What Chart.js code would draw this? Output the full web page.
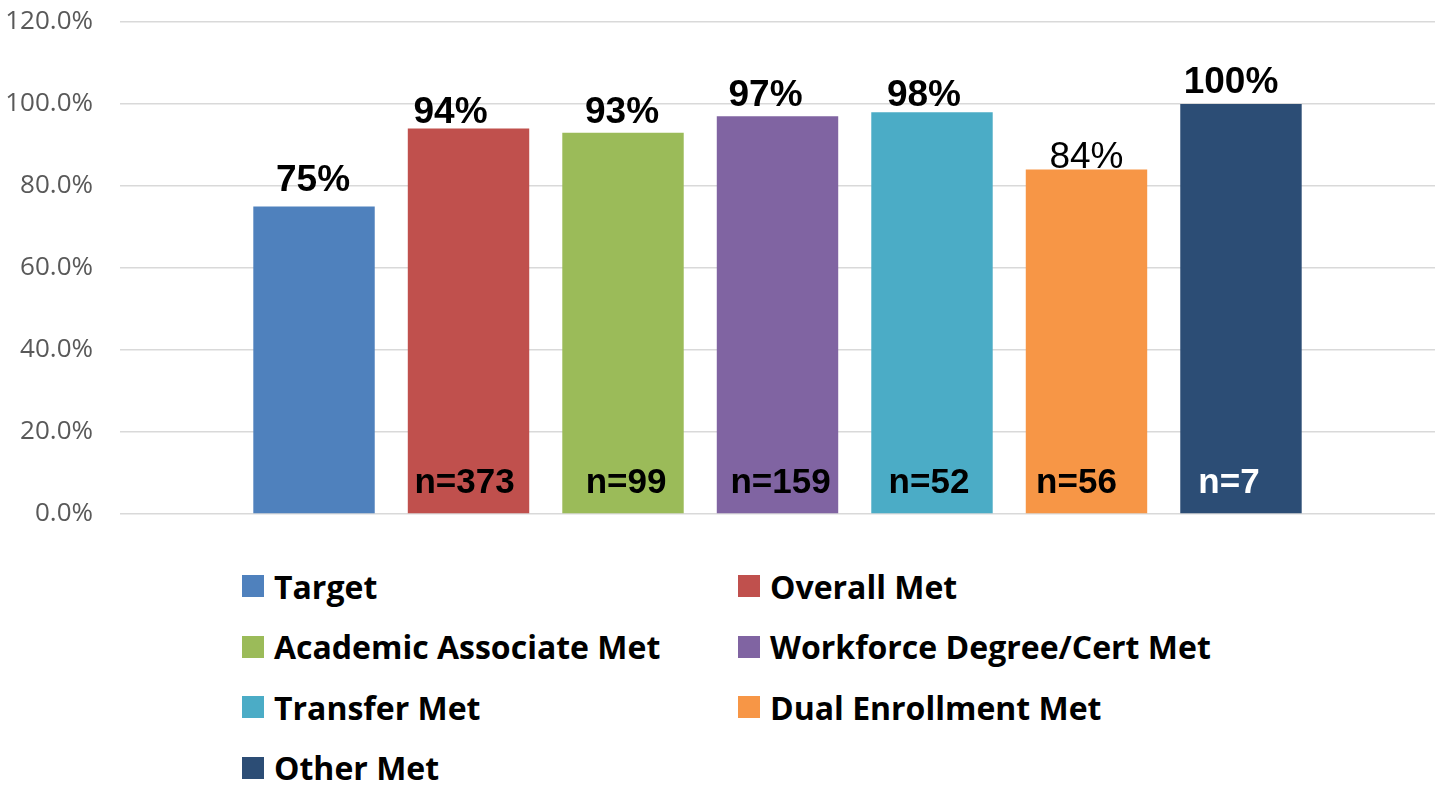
<!DOCTYPE html>
<html lang="en">
<head>
  <meta charset="UTF-8" />
  <title>Completion Met by Group</title>
  <script src="https://cdn.jsdelivr.net/npm/chart.js"></script>
  <style>
    html, body { margin: 0; padding: 0; background: #fff; }
    #wrap { position: relative; width: 1439px; height: 785px; overflow: hidden; }
    #chartBox { position: absolute; left: 0; top: 0; width: 1439px; height: 535px; }
    #legend {
      position: absolute; left: 242px; top: 556px;
      display: grid; grid-template-columns: 496px 496px; grid-auto-rows: 60.5px;
      font-family: "Open Sans", sans-serif; font-weight: 700; font-size: 32px; color: #000;
    }
    .item { display: flex; align-items: center; white-space: nowrap; }
    .swatch { width: 22px; height: 22px; margin-right: 10px; flex: none; }
  </style>
</head>
<body>
  <div id="wrap">
    <div id="chartBox"><canvas id="chart"></canvas></div>
    <div id="legend"></div>
  </div>

  <script>
    const seriesNames = ['Target', 'Overall Met', 'Academic Associate Met', 'Workforce Degree/Cert Met',
                         'Transfer Met', 'Dual Enrollment Met', 'Other Met'];
    const seriesValues = [75, 94, 93, 97, 98, 84, 100];
    const seriesColors = ['#4F81BD', '#C0504D', '#9BBB59', '#8064A2', '#4BACC6', '#F79646', '#2C4D75'];
    const topLabels = ['75%', '94%', '93%', '97%', '98%', '84%', '100%'];
    const topBold = [true, true, true, true, true, false, true];
    const countLabels = ['', 'n=373', 'n=99', 'n=159', 'n=52', 'n=56', 'n=7'];
    const countColors = ['#000', '#000', '#000', '#000', '#000', '#000', '#fff'];
    const yTicks = [0, 20, 40, 60, 80, 100, 120];

    // hand-placed label nudges (the original labels were dragged around a bit)
    const topShiftX = [-1, -18, -1, -12, -8, 0, -10];
    const topGap = [16, 6, 10, 10, 6, 2, 11];
    const countShiftX = [0, -4, 3, 3, -3, -10, -12];

    // labels above bars and n= counts near the base
    const barLabels = {
      id: 'barLabels',
      afterDatasetsDraw(chart) {
        const ctx = chart.ctx;
        const base = chart.scales.y.getPixelForValue(0);
        ctx.save();
        ctx.textAlign = 'center';
        ctx.textBaseline = 'alphabetic';
        chart.data.datasets.forEach((ds, i) => {
          const bar = chart.getDatasetMeta(i).data[0];
          ctx.fillStyle = '#000';
          ctx.font = (topBold[i] ? 'bold ' : '') + '37px "Liberation Sans", Arial, sans-serif';
          ctx.fillText(topLabels[i], bar.x + topShiftX[i], bar.y - topGap[i]);
          if (countLabels[i]) {
            ctx.fillStyle = countColors[i];
            ctx.font = 'bold 35px "Liberation Sans", Arial, sans-serif';
            ctx.fillText(countLabels[i], bar.x + countShiftX[i], base - 21);
          }
        });
        ctx.restore();
      }
    };

    new Chart(document.getElementById('chart'), {
      type: 'bar',
      data: {
        labels: [''],
        datasets: seriesNames.map((name, i) => ({
          label: name,
          data: [seriesValues[i]],
          backgroundColor: seriesColors[i],
          borderWidth: 0,
          categoryPercentage: 0.8224,
          barPercentage: 0.786
        }))
      },
      options: {
        responsive: true,
        maintainAspectRatio: false,
        animation: false,
        layout: { padding: { top: 22, bottom: 21, right: 4, left: 0 } },
        plugins: { legend: { display: false }, tooltip: { enabled: false } },
        scales: {
          x: { display: false },
          y: {
            min: 0, max: 120,
            afterFit(scale) {
              scale.width = 120;
              scale.paddingTop = 0;
              scale.paddingBottom = 0;
            },
            afterBuildTicks(scale) { scale.ticks = yTicks.map(v => ({ value: v })); },
            border: { display: false },
            grid: { color: '#D9D9D9', lineWidth: 1.5, drawTicks: false },
            ticks: {
              padding: 27,
              color: '#595959',
              font: { family: '"Open Sans", sans-serif', size: 26 },
              callback: v => v.toFixed(1) + '%'
            }
          }
        }
      },
      plugins: [barLabels]
    });

    const legend = document.getElementById('legend');
    seriesNames.forEach((name, i) => {
      const item = document.createElement('div');
      item.className = 'item';
      item.innerHTML = '<span class="swatch" style="background:' + seriesColors[i] + '"></span><span>' + name + '</span>';
      legend.appendChild(item);
    });
  </script>
</body>
</html>
